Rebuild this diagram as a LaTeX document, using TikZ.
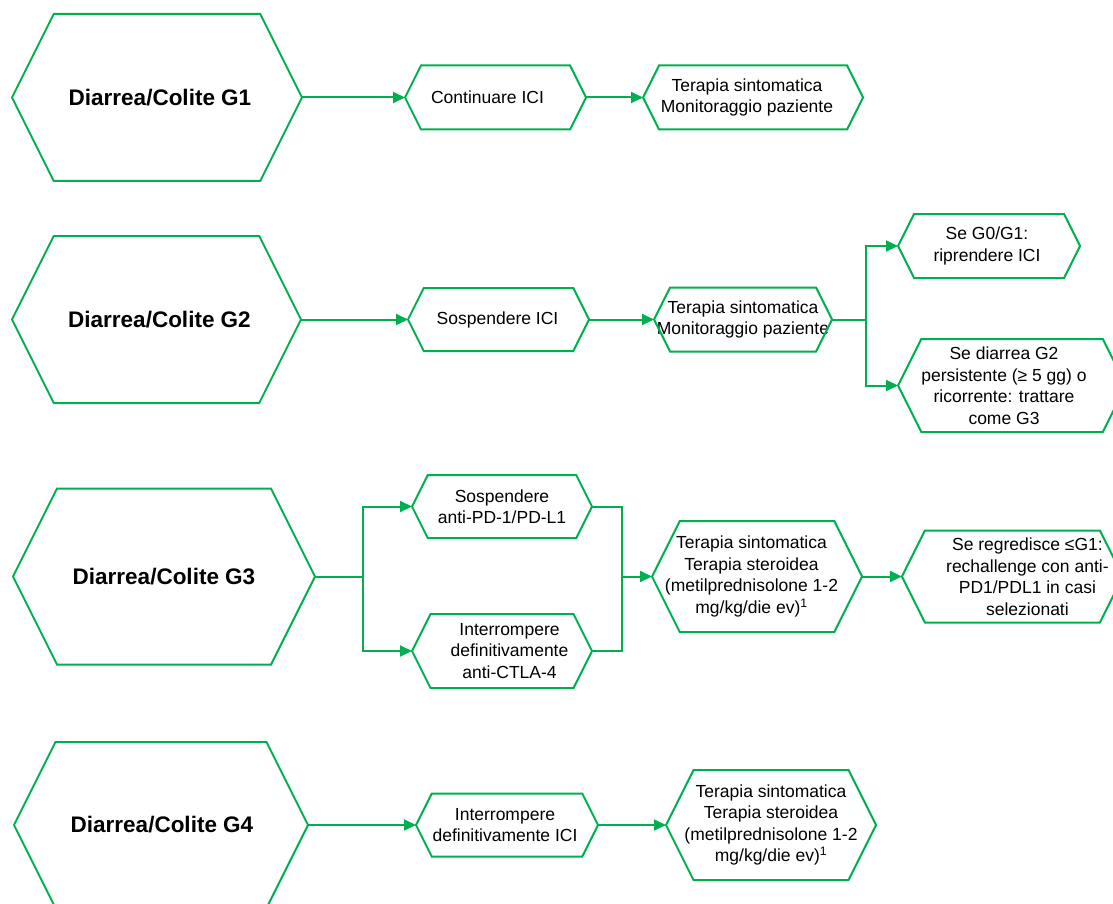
\documentclass[tikz,border=0pt]{standalone}
\usepackage{fontspec}
\setmainfont{Liberation Sans}
\usetikzlibrary{arrows.meta,calc}

\definecolor{diagreen}{HTML}{00B050}

\tikzset{
  hexframe/.style={rectangle, draw=none, inner sep=0pt, outer sep=0pt},
  hexline/.style={draw=diagreen, line width=2pt, line join=miter},
  boxtext/.style={align=center, inner sep=0pt, text=black,
    font=\fontsize{17.5}{21.5}\selectfont},
  titletext/.style={align=center, inner sep=0pt, text=black,
    font=\bfseries\fontsize{22.5}{27}\selectfont},
  conn/.style={draw=diagreen, line width=2pt},
  arr/.style={conn, -{Triangle[length=12pt,width=11pt]}},
}

% #1 name, #2 cx, #3 cy, #4 width, #5 height, #6 text shift, #7 text style, #8 text
\newcommand\hexagonnode[8]{%
  \node[hexframe, minimum width=#4pt, minimum height=#5pt] (#1) at (#2,#3) {};
  \node[#7] (#1-text) at ([xshift=#6pt]#1.center) {#8};
  \pgfmathsetmacro\hexslant{#5/4}
  \draw[hexline] (#1.west) -- ([xshift=\hexslant pt]#1.north west)
    -- ([xshift=-\hexslant pt]#1.north east) -- (#1.east)
    -- ([xshift=-\hexslant pt]#1.south east)
    -- ([xshift=\hexslant pt]#1.south west) -- cycle;
}

\begin{document}
\begin{tikzpicture}[x=1pt,y=-1pt]
\useasboundingbox (0,0) rectangle (1113,904);
\fill[white] (0,0) rectangle (1113,904);
\clip (0,0) rectangle (1113,904);

% ---- Grade 1 ----
\hexagonnode{g1}{157}{97.5}{290}{167}{3}{titletext}{Diarrea/Colite G1}
\hexagonnode{g1a}{495.5}{97.5}{181}{64}{-8}{boxtext}{Continuare ICI}
\hexagonnode{g1b}{753}{97.5}{220}{64}{-6}{boxtext}{Terapia sintomatica\\Monitoraggio paziente}
\draw[arr] (g1.east) -- (g1a.west);
\draw[arr] (g1a.east) -- (g1b.west);

% ---- Grade 2 ----
\hexagonnode{g2}{156.5}{319.5}{289}{167}{3}{titletext}{Diarrea/Colite G2}
\hexagonnode{g2a}{498.5}{319.5}{181}{63}{-1}{boxtext}{Sospendere ICI}
\hexagonnode{g2b}{743}{319.5}{178}{64}{0}{boxtext}{Terapia sintomatica\\Monitoraggio paziente}
\hexagonnode{g2c}{989}{246}{182}{64}{-2}{boxtext}{Se G0/G1:\\riprendere ICI}
\hexagonnode{g2d}{1012}{385.5}{228}{93}{-8}{boxtext}{Se diarrea G2\\persistente (≥ 5 gg) o\\ricorrente: trattare\\come G3}
\draw[arr] (g2.east) -- (g2a.west);
\draw[arr] (g2a.east) -- (g2b.west);
\coordinate (j2) at ($(g2b.east)+(34,0)$);
\draw[conn] (g2b.east) -- (j2);
\draw[arr] (j2) |- (g2c.west);
\draw[arr] (j2) |- (g2d.west);

% ---- Grade 3 ----
\hexagonnode{g3}{164}{576.5}{302}{176}{0}{titletext}{Diarrea/Colite G3}
\hexagonnode{g3a}{502}{506.5}{180}{63}{0}{boxtext}{Sospendere\\anti-PD-1/PD-L1}
\hexagonnode{g3b}{502}{651}{180}{74}{7.5}{boxtext}{Interrompere\\definitivamente\\anti-CTLA-4}
\hexagonnode{g3c}{757}{576.5}{210}{111}{-5.5}{boxtext}{Terapia sintomatica\\Terapia steroidea\\(metilprednisolone 1-2\\mg/kg/die ev)\textsuperscript{1}}
\hexagonnode{g3d}{1012.4}{576.5}{221}{92}{15}{boxtext}{Se regredisce ≤G1:\\rechallenge con anti-\\PD1/PDL1 in casi\\selezionati}
\coordinate (j3) at ($(g3.east)+(48,0)$);
\draw[conn] (g3.east) -- (j3);
\draw[arr] (j3) |- (g3a.west);
\draw[arr] (j3) |- (g3b.west);
\coordinate (k3) at ($(g3c.west)+(-30,0)$);
\draw[conn] (g3a.east) -| (k3);
\draw[conn] (g3b.east) -| (k3);
\draw[arr] (k3) -- (g3c.west);
\draw[arr] (g3c.east) -- (g3d.west);

% ---- Grade 4 ----
\hexagonnode{g4}{161}{825}{294}{166}{1}{titletext}{Diarrea/Colite G4}
\hexagonnode{g4a}{507}{825}{182}{63}{-2}{boxtext}{Interrompere\\definitivamente ICI}
\hexagonnode{g4b}{771}{825}{210}{110}{0}{boxtext}{Terapia sintomatica\\Terapia steroidea\\(metilprednisolone 1-2\\mg/kg/die ev)\textsuperscript{1}}
\draw[arr] (g4.east) -- (g4a.west);
\draw[arr] (g4a.east) -- (g4b.west);
\end{tikzpicture}
\end{document}
